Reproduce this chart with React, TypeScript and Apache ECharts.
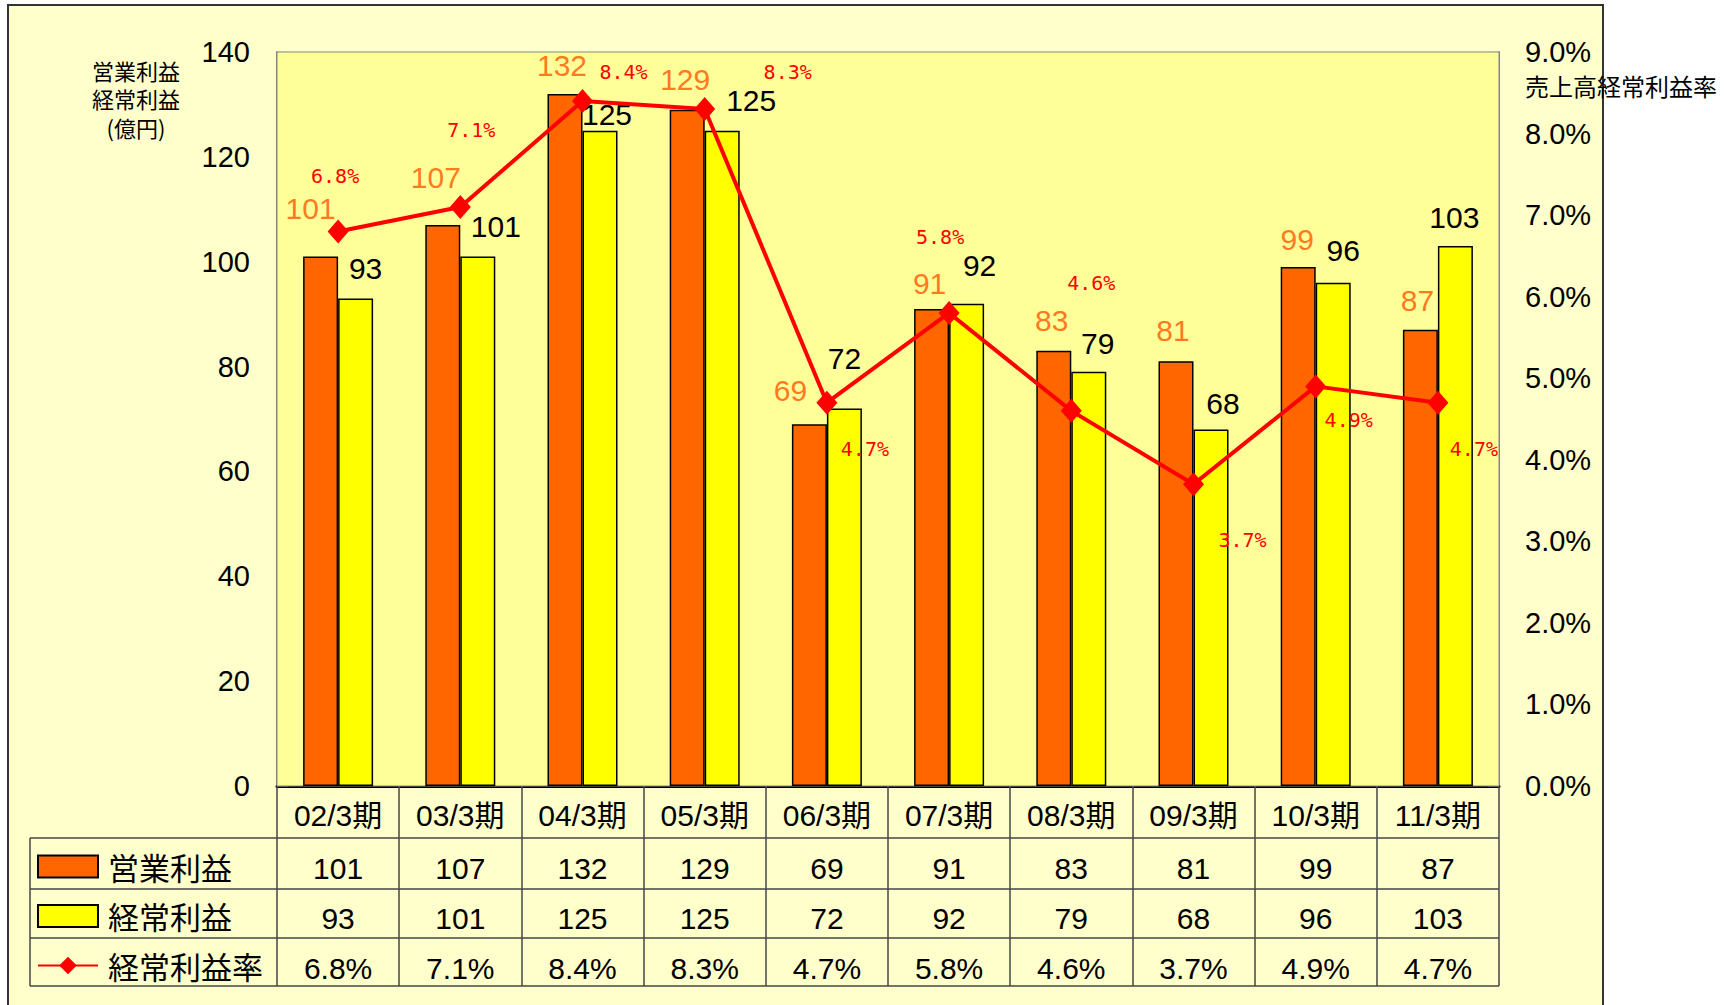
import React, { useEffect, useRef } from "react";
import * as echarts from "echarts";

const categories = ["02/3期", "03/3期", "04/3期", "05/3期", "06/3期", "07/3期", "08/3期", "09/3期", "10/3期", "11/3期"];
const operatingProfit = [101, 107, 132, 129, 69, 91, 83, 81, 99, 87];
const ordinaryProfit = [93, 101, 125, 125, 72, 92, 79, 68, 96, 103];
const ordinaryMargin = [6.8, 7.1, 8.4, 8.3, 4.7, 5.8, 4.6, 3.7, 4.9, 4.7];
const leftTicks = { min: 0, max: 140, interval: 20 };
const rightTicks = { min: 0, max: 9, interval: 1 };

// label placement (style only)
const opLabelOffset = [[-10, -33], [-7, -33], [-3, -13], [-2, -15], [-19, -19], [-2, -10], [-2, -15], [-3, -16], [-1, -12], [-3, -14]];
const ordLabelOffset = [[10, -15], [18, -15], [7, -1], [29, -15], [0, -35], [13, -23], [9, -13], [12, -11], [10, -17], [-1, -13]];
const rateLabelOffset = [[-3, -55], [11, -77], [41, -29], [83, -37], [38, 46], [-9, -76], [20, -128], [49, 56], [33, 34], [36, 46]];

const NUM = "'Liberation Sans', 'Noto Sans CJK JP', sans-serif";
const CJK = "'Noto Sans CJK JP', sans-serif";
const MONO = "'DejaVu Sans Mono', 'Liberation Mono', monospace";

export default function App() {
  const ref = useRef<HTMLDivElement>(null);
  useEffect(() => {
    if (!ref.current) return;
    const chart = echarts.init(ref.current, null, { renderer: "svg" });
    const tableLine = (x1: number, y1: number, x2: number, y2: number) => ({
      type: "line",
      shape: { x1, y1, x2, y2 },
      style: { stroke: "#444", lineWidth: 1.5 },
      z: 50,
    });
    const option: any = {
      animation: false,
      backgroundColor: "#ffffff",
      grid: {
        left: 277,
        top: 52,
        right: 237,
        bottom: 219,
        show: true,
        backgroundColor: "#FFFF99",
        borderColor: "#888",
        borderWidth: 1,
        z: 1,
      },
      legend: {
        orient: "vertical",
        left: 37,
        top: 851,
        height: 150,
        padding: 0,
        itemWidth: 60,
        itemHeight: 22,
        itemGap: 18.5,
        selectedMode: false,
        textStyle: { fontSize: 31, fontFamily: CJK, color: "#000", padding: [0, 0, 0, 5] },
        data: [
          { name: "営業利益", icon: "rect" },
          { name: "経常利益", icon: "rect" },
          { name: "経常利益率" },
        ],
      },
      xAxis: {
        type: "category",
        data: categories,
        axisLine: { show: true, lineStyle: { color: "#000", width: 3 } },
        axisTick: { show: true, alignWithLabel: false, length: 200, lineStyle: { color: "#444", width: 1.5 } },
        axisLabel: {
          interval: 0,
          margin: 1,
          formatter: (val: string, idx: number) =>
            `{h|${val}}\n{v|${operatingProfit[idx]}}\n{v|${ordinaryProfit[idx]}}\n{v|${ordinaryMargin[idx].toFixed(1)}%}`,
          rich: {
            h: { fontSize: 30, fontFamily: NUM, color: "#000", lineHeight: 56 },
            v: { fontSize: 30, fontFamily: NUM, color: "#000", lineHeight: 50 },
          },
        },
        splitLine: { show: false },
      },
      yAxis: [
        {
          type: "value",
          position: "left",
          ...leftTicks,
          axisLine: { show: true, lineStyle: { color: "#555", width: 1.5 } },
          axisTick: { show: true, inside: true, length: 11, lineStyle: { color: "#333", width: 1.2 } },
          axisLabel: { fontSize: 29, fontFamily: NUM, color: "#000", margin: 27 },
          splitLine: { show: false },
        },
        {
          type: "value",
          position: "right",
          ...rightTicks,
          axisLine: { show: true, lineStyle: { color: "#555", width: 1.5 } },
          axisTick: { show: true, inside: true, length: 11, lineStyle: { color: "#333", width: 1.2 } },
          axisLabel: {
            fontSize: 29,
            fontFamily: NUM,
            color: "#000",
            margin: 26,
            formatter: (v: number) => v.toFixed(1) + "%",
          },
          splitLine: { show: false },
        },
      ],
      series: [
        {
          name: "営業利益",
          type: "bar",
          barWidth: 35,
          barGap: "0%",
          z: 3,
          itemStyle: { color: "#FF6600", borderColor: "#000", borderWidth: 1.5 },
          label: {
            show: true,
            position: "top",
            distance: 0,
            fontSize: 30,
            lineHeight: 30,
            fontFamily: NUM,
            color: "#FF7A1F",
          },
          data: operatingProfit.map((v, i) => ({ value: v, label: { offset: opLabelOffset[i] } })),
        },
        {
          name: "経常利益",
          type: "bar",
          barWidth: 35,
          z: 3,
          itemStyle: { color: "#FFFF00", borderColor: "#000", borderWidth: 1.5 },
          label: {
            show: true,
            position: "top",
            distance: 0,
            fontSize: 30,
            lineHeight: 30,
            fontFamily: NUM,
            color: "#000",
          },
          data: ordinaryProfit.map((v, i) => ({ value: v, label: { offset: ordLabelOffset[i] } })),
        },
        {
          name: "経常利益率",
          type: "line",
          yAxisIndex: 1,
          z: 5,
          symbol: "diamond",
          symbolSize: [21, 24],
          lineStyle: { color: "#FF0000", width: 4 },
          itemStyle: { color: "#FF0000" },
          label: {
            show: true,
            position: "inside",
            fontSize: 20,
            fontFamily: MONO,
            color: "#FF0000",
            formatter: (p: any) => Number(p.value).toFixed(1) + "%",
          },
          data: ordinaryMargin.map((v, i) => ({ value: v, label: { offset: rateLabelOffset[i] } })),
        },
      ],
      graphic: [
        {
          type: "rect",
          shape: { x: 8, y: 5, width: 1595, height: 1020 },
          style: { fill: "#FFFFCC", stroke: "#333", lineWidth: 2 },
          z: -100,
          silent: true,
        },
        {
          type: "text",
          x: 136,
          y: 98,
          style: {
            text: "営業利益\n経常利益\n(億円)",
            font: `22px ${CJK}`,
            fill: "#000",
            align: "center",
            verticalAlign: "middle",
            lineHeight: 28.5,
          },
          z: 60,
        },
        {
          type: "text",
          x: 1525,
          y: 85,
          style: { text: "売上高経常利益率", font: `24px ${CJK}`, fill: "#000", align: "left", verticalAlign: "middle" },
          z: 60,
        },
        tableLine(30, 838, 1499, 838),
        tableLine(30, 889, 1499, 889),
        tableLine(30, 938, 1499, 938),
        tableLine(30, 986, 1499, 986),
        tableLine(30, 838, 30, 986),
      ],
    };
    chart.setOption(option);
    return () => chart.dispose();
  }, []);
  return (
    <div
      ref={ref}
      style={{ position: "fixed", left: 0, top: 0, width: 1736, height: 1005 }}
    />
  );
}
